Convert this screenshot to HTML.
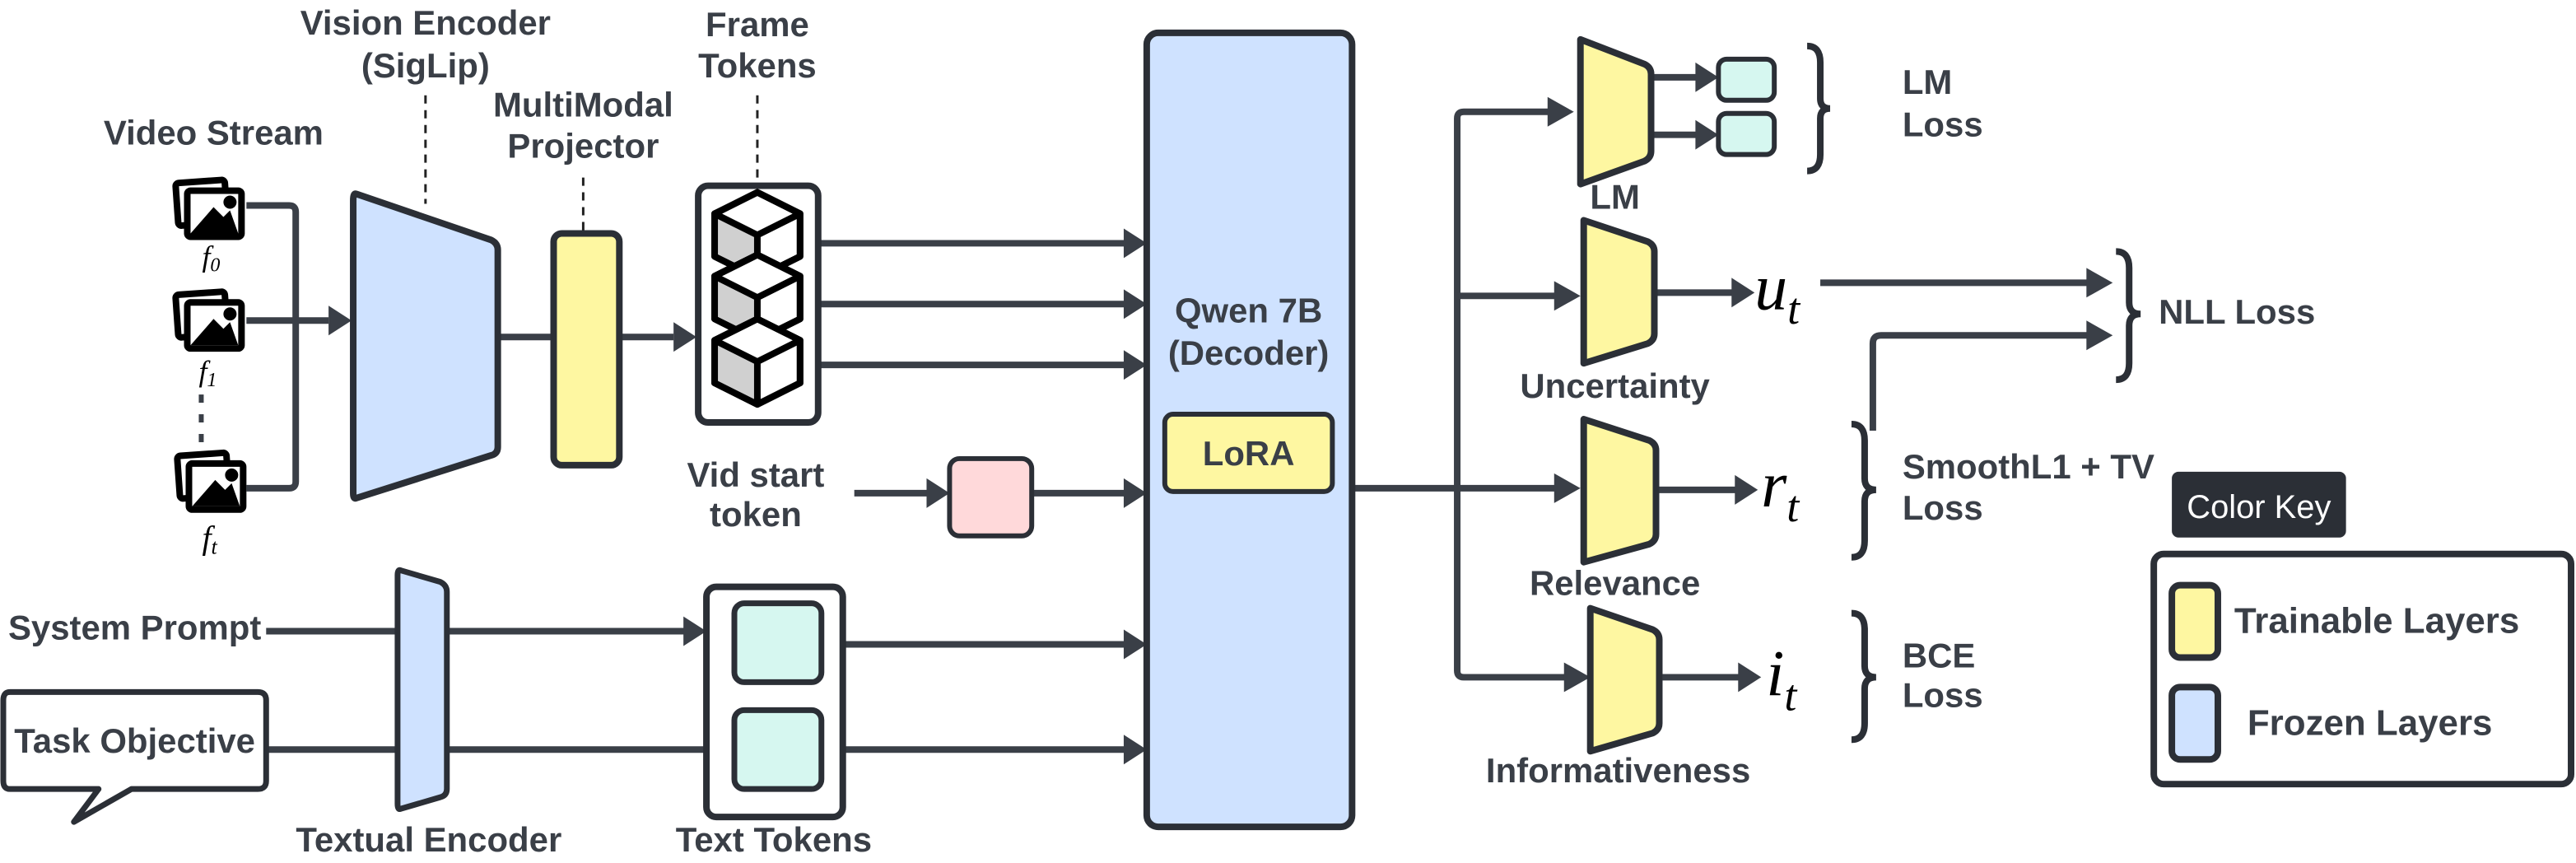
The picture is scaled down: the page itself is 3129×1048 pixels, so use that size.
<!DOCTYPE html>
<html><head><meta charset="utf-8"><style>
html,body{margin:0;padding:0;background:#fff;}
svg{display:block;}
text{font-family:"Liberation Sans",sans-serif;font-weight:bold;fill:#3a3f47;}
.m{font-family:"Liberation Serif",serif;font-style:italic;font-weight:normal;fill:#000;}
</style></head><body>
<svg width="3129" height="1048" viewBox="0 0 1568 525" preserveAspectRatio="none" xmlns="http://www.w3.org/2000/svg">
<defs>
<g id="img">
<rect x="-20" y="-18" width="30" height="26" rx="2" fill="#fff" stroke="#000" stroke-width="4" transform="rotate(-4)"/>
<rect x="-14" y="-12" width="33" height="28" rx="2" fill="#fff" stroke="#000" stroke-width="4"/>
<path d="M-12 14 L2 -2 L8 4 L12 0 L17 14 Z" fill="#000"/>
<circle cx="12" cy="-5" r="4" fill="#000"/>
</g>
<g id="cube">
<path d="M0 -26 L26 -13 L26 13 L0 26 L-26 13 L-26 -13 Z" fill="#fff" stroke="#000" stroke-width="4" stroke-linejoin="round"/>
<path d="M-26 -13 L0 0 L0 26 L-26 13 Z" fill="#d0d0d0"/>
<path d="M0 -26 L26 -13 L26 13 L0 26 L-26 13 L-26 -13 Z M-26 -13 L0 0 L26 -13 M0 0 L0 26" fill="none" stroke="#000" stroke-width="4" stroke-linejoin="round"/>
</g>
</defs>
<g stroke="#3a3f47" stroke-width="4" fill="none">
<path d="M150 125 H176 Q180 125 180 129 V293 Q180 297 176 297 H150"/>
<path d="M150 195 H200"/>
<path d="M303 205 H337"/>
<path d="M377 205 H410"/>
<path d="M498 148 H685 M498 185 H685 M498 222 H685"/>
<path d="M520 300 H566 M628 300 H685"/>
<path d="M162 384 H418"/>
<path d="M162 456 H434"/>
<path d="M500 392 H685 M500 456 H685"/>
<path d="M823 297 H948"/>
<path d="M944 68 H891 Q887 68 887 72 V408 Q887 412 891 412 H954"/>
<path d="M887 180 H948"/>
<path d="M1005 47 H1034 M1005 82 H1034"/>
<path d="M1008 178 H1056"/>
<path d="M1108 172 H1272"/>
<path d="M1010 298 H1058"/>
<path d="M1140 262 V209 Q1140 204 1145 204 H1272"/>
<path d="M1012 412 H1060"/>
</g>
<g fill="#3a3f47">
<path d="M200 186 L214 195 L200 204Z"/>
<path d="M410 196 L424 205 L410 214Z"/>
<path d="M684 139 L698 148 L684 157Z M684 176 L698 185 L684 194Z M684 213 L698 222 L684 231Z"/>
<path d="M564 291 L578 300 L564 309Z M684 291 L698 300 L684 309Z"/>
<path d="M416 375 L430 384 L416 393Z M432 447 L446 456 L432 465Z"/>
<path d="M684 383 L698 392 L684 401Z M684 447 L698 456 L684 465Z"/>
<path d="M946 288 L962 297 L946 306Z"/>
<path d="M942 59 L958 68 L942 77Z M946 171 L962 180 L946 189Z M952 403 L968 412 L952 421Z"/>
<path d="M1032 38 L1046 47 L1032 56Z M1032 73 L1046 82 L1032 91Z"/>
<path d="M1054 169 L1068 178 L1054 187Z"/>
<path d="M1056 289 L1070 298 L1056 307Z"/>
<path d="M1058 403 L1072 412 L1058 421Z"/>
<path d="M1270 163 L1286 172 L1270 181Z M1270 195 L1286 204 L1270 213Z"/>
</g>
<g stroke="#222" stroke-width="1.5" stroke-dasharray="5,4">
<path d="M259 58 V124"/><path d="M355 108 V142"/><path d="M461 58 V113"/>
</g>
<use href="#img" x="128" y="128"/>
<use href="#img" x="128" y="196"/>
<use href="#img" x="129" y="294"/>
<text class="m" x="123" y="162" font-size="18">f<tspan font-size="12" dy="3">0</tspan></text>
<text class="m" x="121" y="232" font-size="18">f<tspan font-size="12" dy="3">1</tspan></text>
<g fill="#3a3f47"><rect x="121" y="240" width="3" height="5"/><rect x="121" y="252" width="3" height="5"/><rect x="121" y="264" width="3" height="5"/></g>
<text class="m" x="123" y="334" font-size="20">f<tspan font-size="13" dy="3">t</tspan></text>
<path d="M217 118 L299 146 Q303 148 303 152 V272 Q303 276 299 277 L217 303 Q215 304 215 300 V122 Q215 117 217 118Z" fill="#cfe2ff" stroke="#2b2f36" stroke-width="4" stroke-linejoin="round"/>
<rect x="337" y="142" width="40" height="141" rx="5" fill="#fef7a1" stroke="#2b2f36" stroke-width="4"/>
<rect x="425" y="113" width="73" height="144" rx="6" fill="#fff" stroke="#2b2f36" stroke-width="4"/>
<use href="#cube" x="461" y="143"/>
<use href="#cube" x="461" y="181"/>
<use href="#cube" x="461" y="220"/>
<rect x="578" y="279" width="50" height="47" rx="6" fill="#ffd9da" stroke="#2b2f36" stroke-width="3"/>
<path d="M244 347 L268 354 Q272 356 272 360 V480 Q272 484 268 485 L244 492 Q242 493 242 489 V350 Q242 346 244 347Z" fill="#cfe2ff" stroke="#2b2f36" stroke-width="3.5" stroke-linejoin="round"/>
<path d="M6 421 H157 Q162 421 162 426 V475 Q162 480 157 480 H80 L45 500 L60 480 H6 Q2 480 2 475 V426 Q2 421 6 421Z" fill="#fff" stroke="#2b2f36" stroke-width="3.5" stroke-linejoin="round"/>
<rect x="430" y="357" width="83" height="140" rx="6" fill="#fff" stroke="#2b2f36" stroke-width="4"/>
<rect x="447" y="367" width="53" height="48" rx="6" fill="#d6f7f0" stroke="#2b2f36" stroke-width="3.5"/>
<rect x="447" y="432" width="53" height="48" rx="6" fill="#d6f7f0" stroke="#2b2f36" stroke-width="3.5"/>
<rect x="698" y="20" width="125" height="483" rx="7" fill="#cfe2ff" stroke="#2b2f36" stroke-width="4"/>
<rect x="709" y="252" width="102" height="47" rx="5" fill="#fef7a1" stroke="#2b2f36" stroke-width="3"/>
<g fill="#fef7a1" stroke="#2b2f36" stroke-width="4" stroke-linejoin="round">
<path d="M962 24 L1001 39 Q1005 41 1005 45 V92 Q1005 96 1001 98 L962 112 Z"/>
<path d="M964 134 L1003 147 Q1007 149 1007 153 V203 Q1007 207 1003 209 L964 221 Z"/>
<path d="M964 255 L1004 268 Q1008 270 1008 274 V325 Q1008 329 1004 331 L964 342 Z"/>
<path d="M968 370 L1006 383 Q1010 385 1010 389 V440 Q1010 444 1006 446 L968 457 Z"/>
</g>
<rect x="1046" y="36" width="34" height="25" rx="5" fill="#d6f7f0" stroke="#2b2f36" stroke-width="3"/>
<rect x="1046" y="69" width="34" height="25" rx="5" fill="#d6f7f0" stroke="#2b2f36" stroke-width="3"/>
<g stroke="#2b2f36" stroke-width="4" fill="none">
<path d="M1100 28 Q1108 28 1108 38 V60 Q1108 66 1114 66 Q1108 66 1108 72 V94 Q1108 104 1100 104"/>
<path d="M1288 153 Q1296 153 1296 163 V184 Q1296 191 1303 191 Q1296 191 1296 198 V221 Q1296 231 1288 231"/>
<path d="M1127 258 Q1135 258 1135 268 V291 Q1135 298 1142 298 Q1135 298 1135 305 V329 Q1135 339 1127 339"/>
<path d="M1127 373 Q1135 373 1135 383 V405 Q1135 412 1142 412 Q1135 412 1135 419 V440 Q1135 450 1127 450"/>
</g>
<text class="m" x="1068" y="188" font-size="40">u<tspan font-size="27" dy="9">t</tspan></text>
<text class="m" x="1072" y="308" font-size="40">r<tspan font-size="27" dy="9">t</tspan></text>
<text class="m" x="1075" y="423" font-size="40">i<tspan font-size="27" dy="9">t</tspan></text>
<rect x="1322" y="287" width="106" height="40" rx="4" fill="#2b2f36"/>
<text x="1375" y="315" font-size="20" text-anchor="middle" style="font-weight:normal;fill:#fff">Color Key</text>
<rect x="1311" y="337" width="254" height="140" rx="6" fill="#fff" stroke="#2b2f36" stroke-width="4"/>
<rect x="1322" y="356" width="28" height="44" rx="5" fill="#fef7a1" stroke="#2b2f36" stroke-width="4"/>
<rect x="1322" y="418" width="28" height="44" rx="5" fill="#cfe2ff" stroke="#2b2f36" stroke-width="4"/>
<g font-size="21">
<text x="1360" y="385" font-size="22">Trainable Layers</text>
<text x="1368" y="447" font-size="22">Frozen Layers</text>
<text x="130" y="88" text-anchor="middle">Video Stream</text>
<text x="259" y="21" text-anchor="middle">Vision Encoder</text>
<text x="259" y="47" text-anchor="middle">(SigLip)</text>
<text x="355" y="71" text-anchor="middle">MultiModal</text>
<text x="355" y="96" text-anchor="middle">Projector</text>
<text x="461" y="22" text-anchor="middle">Frame</text>
<text x="461" y="47" text-anchor="middle">Tokens</text>
<text x="460" y="296" text-anchor="middle">Vid start</text>
<text x="460" y="320" text-anchor="middle">token</text>
<text x="5" y="389">System Prompt</text>
<text x="82" y="458" text-anchor="middle">Task Objective</text>
<text x="261" y="518" text-anchor="middle">Textual Encoder</text>
<text x="471" y="518" text-anchor="middle">Text Tokens</text>
<text x="760" y="196" text-anchor="middle">Qwen 7B</text>
<text x="760" y="222" text-anchor="middle">(Decoder)</text>
<text x="760" y="283" text-anchor="middle">LoRA</text>
<text x="983" y="127" text-anchor="middle">LM</text>
<text x="983" y="242" text-anchor="middle">Uncertainty</text>
<text x="983" y="362" text-anchor="middle">Relevance</text>
<text x="985" y="476" text-anchor="middle">Informativeness</text>
<text x="1158" y="57">LM</text>
<text x="1158" y="83">Loss</text>
<text x="1314" y="197">NLL Loss</text>
<text x="1158" y="291">SmoothL1 + TV</text>
<text x="1158" y="316">Loss</text>
<text x="1158" y="406">BCE</text>
<text x="1158" y="430">Loss</text>
</g>
</svg>
</body></html>
